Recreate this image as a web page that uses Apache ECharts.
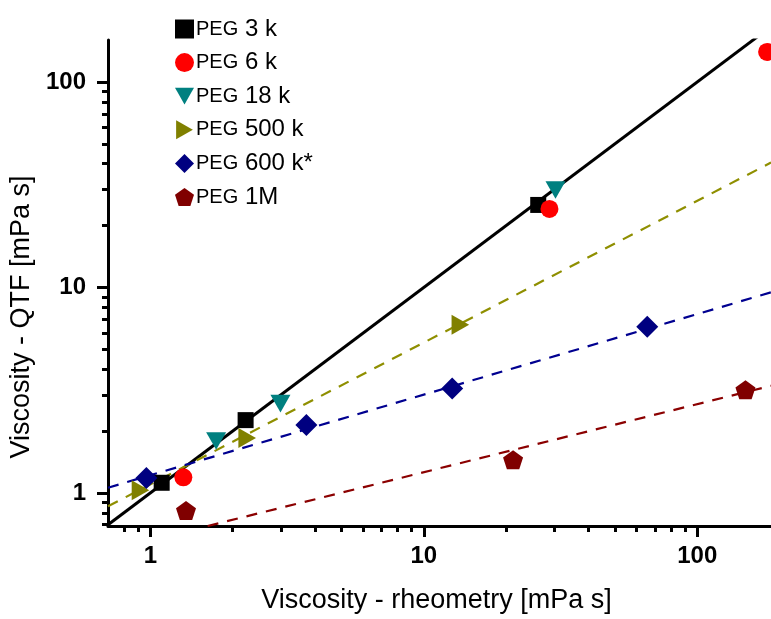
<!DOCTYPE html>
<html>
<head>
<meta charset="utf-8">
<script src="https://cdn.jsdelivr.net/npm/echarts@6/dist/echarts.min.js"></script>
<style>
html,body{margin:0;padding:0;background:#fff;}
#chart{width:771px;height:619px;}
</style>
</head>
<body>
<div id="chart"></div>
<script>
// ---- data ----
const seriesNames = ['PEG 3 k', 'PEG 6 k', 'PEG 18 k', 'PEG 500 k', 'PEG 600 k*', 'PEG 1M'];
const peg3k   = [[1.10, 1.12], [2.23, 2.26], [26.2, 25.2]];
const peg6k   = [[1.32, 1.19], [28.8, 24.1], [180, 140]];
const peg18k  = [[1.74, 1.79], [2.99, 2.72], [30.3, 29.8]];
const peg500k = [[0.92, 1.03], [2.26, 1.85], [13.6, 6.58]];
const peg600k = [[0.967, 1.18], [3.72, 2.14], [12.7, 3.22], [65.6, 6.44]];
const peg1M   = [[1.35, 0.82], [21.2, 1.45], [150, 3.18]];
// fit lines (end points)
const lineIdentity = [[0.7, 0.7], [186, 186]];
const line500k = [[0.7, 0.86], [186, 40.5]];
const line600k = [[0.7, 1.06], [186, 9.46]];
const line1M   = [[1.62, 0.69], [186, 3.32]];
// ticks
const majorTicks = [1, 10, 100];
const minorTicksX = [0.8, 0.9, 2, 3, 4, 5, 6, 7, 8, 9, 20, 30, 40, 50, 60, 70, 80, 90];
const minorTicksY = [0.7, 0.8, 0.9, 2, 3, 4, 5, 6, 7, 8, 9, 20, 30, 40, 50, 60, 70, 80, 90];
const xTitle = 'Viscosity - rheometry [mPa s]';
const yTitle = 'Viscosity - QTF [mPa s]';

const FONT = '"Liberation Sans", Arial, sans-serif';
const XMIN = 0.7, XMAX = 186, YMIN = 0.69, YMAX = 160;
const pentagon = 'path://M50,0 L97.6,34.5 L79.4,90.5 L20.6,90.5 L2.4,34.5 Z';
const triDown = 'path://M0,0 L100,0 L50,88 Z';
const triRight = 'path://M0,0 L88,50 L0,100 Z';
const square = 'path://M0,0 L100,0 L100,100 L0,100 Z';
const diamond = 'path://M50,0 L100,50 L50,100 L0,50 Z';

function scatter(name, data, color, symbol, size) {
  return {
    type: 'scatter', name: name, data: data, xAxisIndex: 0, yAxisIndex: 0,
    symbol: symbol, symbolSize: size, symbolKeepAspect: true,
    itemStyle: { color: color, opacity: 1 }, z: 5, clip: false
  };
}
function fit(data, color, dashed) {
  return {
    type: 'line', data: data, xAxisIndex: 0, yAxisIndex: 0, showSymbol: false, symbol: 'none',
    silent: true, clip: true, z: 3,
    lineStyle: { color: color, width: dashed ? 2.2 : 3, type: dashed ? [11, 9] : 'solid' }
  };
}

const axisBase = {
  type: 'log', logBase: 10, splitLine: { show: false }
};

const option = {
  backgroundColor: '#fff',
  animation: false,
  grid: { left: 108, right: 0, top: 40, bottom: 84, containLabel: false },
  legend: {
    orient: 'vertical', left: 170, top: 12,
    itemWidth: 19, itemHeight: 19, itemGap: 9.6,
    data: seriesNames,
    formatter: function (n) {
      const i = n.indexOf(' ');
      return '{a|' + n.slice(0, i) + '}{b|' + n.slice(i) + '}';
    },
    textStyle: {
      padding: [0, 0, 0, -3],
      rich: {
        a: { fontFamily: FONT, fontSize: 20, color: '#000', lineHeight: 18 },
        b: { fontFamily: FONT, fontSize: 24, color: '#000', lineHeight: 18 }
      }
    }
  },
  xAxis: [
    Object.assign({}, axisBase, {
      min: XMIN, max: XMAX, position: 'bottom',
      name: xTitle, nameLocation: 'middle', nameGap: 61,
      nameTextStyle: { fontFamily: FONT, fontSize: 27, color: '#000', padding: [0, 6, 0, 0] },
      axisLine: { show: true, lineStyle: { color: '#000', width: 3 } },
      axisTick: { show: true, inside: false, length: 11, customValues: majorTicks, lineStyle: { color: '#000', width: 3 } },
      axisLabel: { show: true, customValues: majorTicks, margin: 18, fontFamily: FONT, fontSize: 24, fontWeight: 'bold', color: '#000' }
    }),
    Object.assign({}, axisBase, {
      min: XMIN, max: XMAX, position: 'bottom',
      axisLine: { show: false },
      axisTick: { show: true, inside: false, length: 6, customValues: minorTicksX, lineStyle: { color: '#000', width: 3 } },
      axisLabel: { show: false }
    })
  ],
  yAxis: [
    Object.assign({}, axisBase, {
      min: YMIN, max: YMAX, position: 'left',
      name: yTitle, nameLocation: 'middle', nameGap: 64,
      nameTextStyle: { fontFamily: FONT, fontSize: 27, color: '#000', padding: [0, 0, 0, -68] },
      axisLine: { show: true, lineStyle: { color: '#000', width: 3 } },
      axisTick: { show: true, inside: false, length: 11, customValues: majorTicks, lineStyle: { color: '#000', width: 3 } },
      axisLabel: { show: true, customValues: majorTicks, margin: 22, fontFamily: FONT, fontSize: 24, fontWeight: 'bold', color: '#000' }
    }),
    Object.assign({}, axisBase, {
      min: YMIN, max: YMAX, position: 'left',
      axisLine: { show: false },
      axisTick: { show: true, inside: false, length: 6, customValues: minorTicksY, lineStyle: { color: '#000', width: 3 } },
      axisLabel: { show: false }
    })
  ],
  series: [
    fit(lineIdentity, '#000000', false),
    fit(line500k, '#8f8f00', true),
    fit(line600k, '#000090', true),
    fit(line1M, '#8b0000', true),
    scatter(seriesNames[0], peg3k, '#000000', square, 16),
    scatter(seriesNames[1], peg6k, '#ff0000', 'circle', 18),
    scatter(seriesNames[2], peg18k, '#008080', triDown, 20),
    scatter(seriesNames[3], peg500k, '#808000', triRight, 20),
    scatter(seriesNames[4], peg600k, '#000080', diamond, 22),
    scatter(seriesNames[5], peg1M, '#800000', pentagon, 20)
  ]
};

const chart = echarts.init(document.getElementById('chart'), null, { renderer: 'canvas' });
chart.setOption(option);
</script>
</body>
</html>
